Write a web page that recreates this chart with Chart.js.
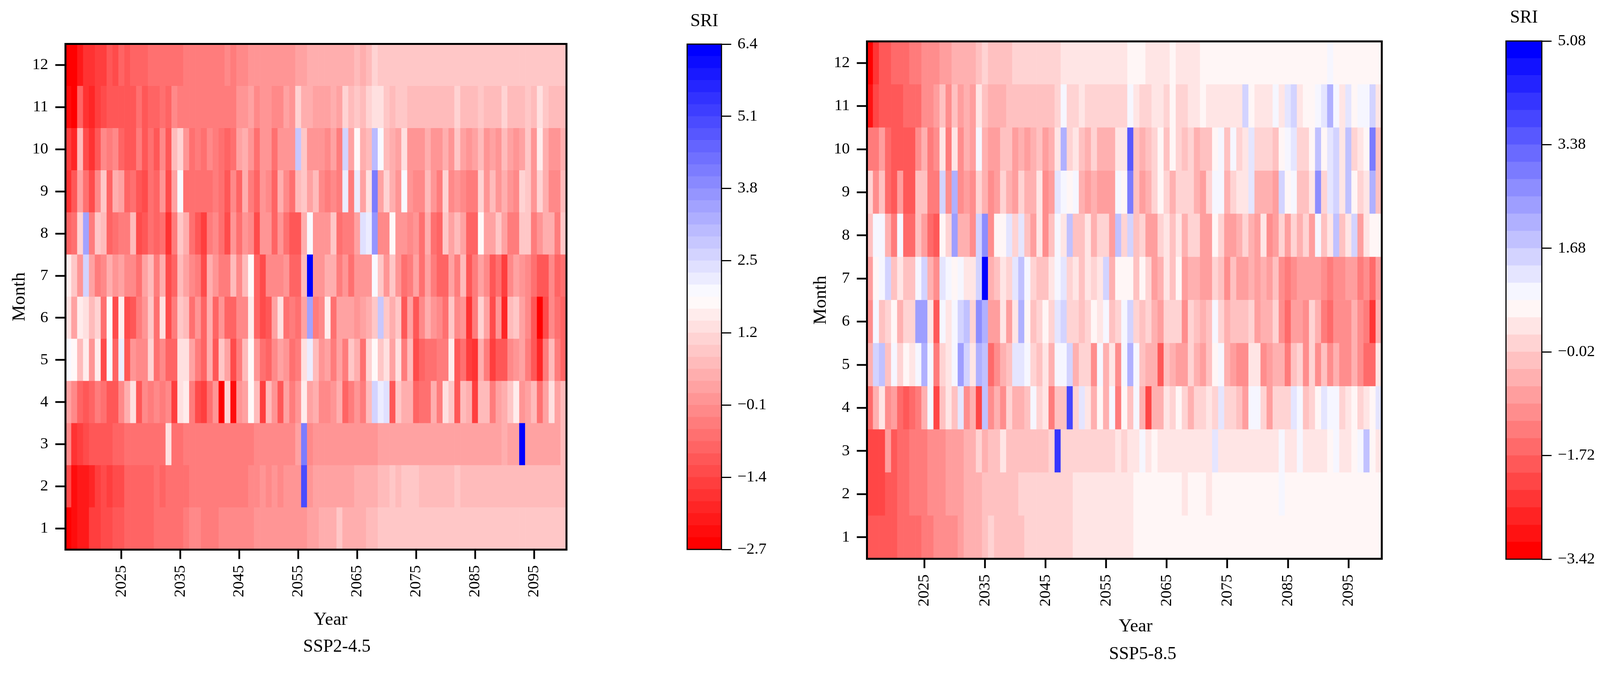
<!DOCTYPE html>
<html>
<head>
<meta charset="utf-8">
<title>SRI heatmaps</title>
<script src="https://cdn.jsdelivr.net/npm/chart.js@4"></script>
<style>
  html, body { margin: 0; padding: 0; background: #fff; overflow: hidden; }
  canvas { position: absolute; top: 0; }
</style>
</head>
<body>
<canvas id="heat245"></canvas>
<canvas id="bar245"></canvas>
<canvas id="heat585"></canvas>
<canvas id="bar585"></canvas>
<script>
// years and months
var years = [];
for (var y = 2016; y <= 2100; y++) years.push(y);
var months = [1,2,3,4,5,6,7,8,9,10,11,12];
var yearTicks = [2025,2035,2045,2055,2065,2075,2085,2095];

// colour bar ticks
var ticks245 = [-2.7,-1.4,-0.1,1.2,2.5,3.8,5.1,6.4];
var ticks585 = [-3.42,-1.72,-0.02,1.68,3.38,5.08];

// SSP2-4.5, SRI per month, one value a year
var s245m1 = [-2.6,-2.4,-2.2,-2.2,-1.5,-1.5,-1.3,-1.3,-1.1,-1.1,
  -.9,-.9,-.9,-.9,-.9,-.6,-.6,-.6,-.6,-.6,
  -.4,-.2,-.2,-.4,-.4,-.4,-.2,-.2,-.2,-.2,
  -.2,-.2,0,0,0,0,0,0,0,0,
  0,.2,.2,.5,.5,.5,.9,.5,.5,.5,
  .5,.7,.7,.9,.9,.9,.9,.9,.9,.9,
  .9,.9,.9,.9,.9,.9,.9,.9,.9,.9,
  .9,.9,.9,.9,.9,.9,.9,.9,.9,.9,
  .9,.9,.9,.9,.9];
var s245m2 = [-1.3,-2.4,-2.2,-2.2,-1.9,-1.5,-1.3,-1.5,-1.3,-1.3,
  -.9,-.9,-.9,-.9,-.9,-.6,-.9,-.6,-.6,-.6,
  -.6,-.4,-.4,-.4,-.4,-.4,-.4,-.4,-.4,-.4,
  -.4,-.2,-.2,0,-.2,0,-.2,0,0,0,
  5,0,.2,.2,.2,.2,.2,.2,.2,.5,
  .5,.5,.5,.7,.7,.9,.7,.9,.9,.9,
  .7,.7,.7,.7,.7,.7,.9,.7,.7,.7,
  .7,.7,.7,.7,.7,.7,.7,.7,.7,.7,
  .7,.7,.7,.7,.7];
var s245m3 = [-.2,-1.7,-1.5,-1.3,-1.1,-1.1,-1.1,-1.1,-.9,-.9,
  -.6,-.6,-.6,-.6,-.6,-.6,-.6,1.3,-.6,-.6,
  -.4,-.4,-.4,-.4,-.4,-.4,-.4,-.4,-.4,-.4,
  -.4,-.4,-.2,-.2,-.2,-.2,-.2,-.2,-.2,.2,
  4.2,-.2,0,0,0,0,0,0,0,0,
  0,0,0,.2,.2,.2,.2,.2,.2,.2,
  .2,.2,.2,.2,.2,.2,.2,.2,.2,.2,
  .2,.2,.2,.2,.5,.2,.2,6.3,.2,.2,
  .2,.2,.2,.2,.7];
var s245m4 = [.2,-.2,-.9,-1.1,-.9,-.4,-.6,-1.1,-1.1,-.2,
  .5,1.3,-1.1,-.2,-.4,-.2,-.4,-.2,-1.5,1.3,
  1.5,-.4,-1.3,-1.5,-.6,0,-2.6,1.1,-2.4,0,
  .2,1.8,.7,-1.5,.7,0,-1.1,.2,-.4,0,
  1.5,.2,.5,-.2,-.2,0,.5,-.9,-.4,0,
  -.4,.7,2.6,2.2,2.4,-1.1,.9,.5,.5,-.9,
  -.6,-.6,.5,-.4,1.3,.9,-1.1,.7,.5,-1.5,
  .7,.7,-.4,.2,.5,.9,1.5,0,.2,.7,
  -.6,.2,1.3,.2,.7];
var s245m5 = [2,1.8,.7,1.5,0,1.5,-1.3,2,-.9,2.2,
  -1.1,0,-.2,-.2,1.1,-.6,-.2,-.9,-.9,1.3,
  1.3,.2,-.4,-.9,.5,-1.1,.9,.2,-1.3,-.4,
  .7,1.8,0,-.6,-.9,-.2,.2,0,-.6,-.4,
  1.3,2.2,.7,0,.2,-.4,.2,-.4,.9,.5,
  -.6,1.1,1.8,.9,1.3,.2,1.3,-.4,.7,-1.3,
  -.9,-.6,-.6,-.4,-.4,1.5,-1.1,-.6,-1.5,-1.7,
  .5,-.4,-1.5,-1.1,-1.1,-.2,0,.2,-.4,-1.1,
  -1.9,-.4,.7,-.4,-.9];
var s245m6 = [1.3,.2,1.5,1.3,.7,1.1,-.6,1.8,-1.3,1.5,
  -1.3,-1.1,-.4,0,.9,-.6,1.3,-1.3,-.4,.9,
  .7,-.6,0,-.9,.5,-.9,0,-.9,-.9,-.2,
  -.2,1.5,-.9,-1.3,-1.1,.2,1.3,-.6,-.4,-.6,
  .2,3.5,-.4,-.2,1.5,-.6,.2,.2,.2,0,
  .2,.5,.9,2.8,.9,.5,.9,-1.1,.2,-1.1,
  -.2,.5,0,-.2,-.6,.9,-.2,0,-1.7,-.4,
  1.1,.2,-1.3,0,-1.9,.7,.9,.2,-.2,-1.1,
  -2.6,-1.3,-.2,-.6,-.9];
var s245m7 = [1.5,.9,0,2.6,.2,-.4,-.2,.5,0,.2,
  -.2,-.2,-.6,.2,.7,-.4,.5,-1.3,-.9,.7,
  .2,-.2,-.4,-1.3,.5,0,-.4,-.4,.7,-.2,
  .7,1.8,-.9,-1.3,-.2,-.2,-.2,0,-.9,-.9,
  .7,6.3,0,0,.5,.5,-.4,0,-.6,0,
  0,0,2,.9,0,.9,0,-.6,-.4,.2,
  -.6,.2,-.4,-.9,-.9,.2,-.4,.7,-1.1,-.4,
  .2,-.2,-1.1,-.6,-1.5,-.2,.2,0,-.2,-.6,
  -1.1,-1.1,-.2,-.9,-.6];
var s245m8 = [-.9,-.6,1.1,3.5,-.4,.9,.7,-.9,-.6,-.4,
  -.4,.7,-1.3,-1.1,-.6,-.9,-.6,-1.7,-.4,.9,
  .5,-.6,-1.1,-1.5,-.4,-.2,-.6,-1.3,0,-.6,
  0,-.2,-1.3,0,0,-.9,0,-.6,-1.1,-1.1,
  .5,2,0,0,0,.9,-.6,-.4,-.4,.2,
  2.4,2.2,3.7,-.2,-.2,1.8,0,0,-.2,0,
  -.6,.5,-.6,-.9,.9,.2,.7,.2,-.9,-.9,
  1.8,.2,.2,.9,.2,-.4,-.4,.9,.9,-.4,
  0,.5,.5,-.4,.9];
var s245m9 = [-1.7,-1.1,.2,-.6,-1.3,-.2,.9,-.9,.5,.2,
  -.9,-.6,-1.1,-1.3,-.6,-.9,0,-1.3,.2,2,
  -.6,-.6,-.6,-.6,-.6,-.4,-.6,-1.1,-.2,-.9,
  .5,-.4,-.9,0,-.2,-.9,.5,-.2,-.6,.7,
  .9,.2,.7,-.2,-.4,-.2,-.4,2.2,-.4,2.2,
  .2,1.3,4.2,.2,1.1,.5,0,2,0,-.2,
  -.2,.7,0,-.4,1.1,-.2,0,-.2,-.4,-.4,
  1.1,0,.7,0,.5,0,-.2,1.1,.9,0,
  1.1,.5,-.2,-.2,.7];
var s245m10 = [-1.5,-1.9,.7,-1.3,-1.7,-1.1,-.2,-.4,-.2,-.9,
  -1.1,-1.1,-.4,-1.1,-.6,-1.1,-.2,-1.1,.7,1.1,
  0,-.6,-.4,-.6,-.2,-.4,-.6,-.9,-.6,.2,
  .5,0,-.6,0,0,-.6,0,0,0,2.8,
  .9,0,0,0,-.2,.2,-.4,2.6,.2,1.8,
  .5,.7,3.1,2,.7,.5,.2,1.3,0,0,
  0,.5,0,0,.5,0,.9,.2,0,.2,
  .7,0,.2,0,.7,.2,0,.2,.9,0,
  1.5,.5,0,0,.5];
var s245m11 = [-2.4,-2.6,-.9,-1.7,-1.9,-1.5,-1.3,-1.1,-1.1,-1.1,
  -1.1,-1.1,-.6,-1.1,-.9,-.9,-.6,-.9,-.2,-.4,
  -.4,-.4,-.4,-.4,-.4,-.4,-.4,-.4,-.4,0,
  0,.2,-.2,0,0,-.2,-.2,.2,0,1.1,
  .5,.5,.2,.2,.2,.5,.2,1.1,.7,.9,
  .7,1.1,1.3,1.3,.9,.7,.9,.9,.7,.7,
  .7,.7,.7,.7,.7,.7,1.1,.7,.7,.7,
  .9,.7,.7,.7,1.1,.7,.7,.7,.9,.7,
  1.3,.9,.7,.7,.7];
var s245m12 = [-2.6,-2.6,-2.2,-1.7,-1.7,-1.5,-1.5,-1.1,-1.3,-.9,
  -1.1,-.9,-.9,-.9,-.6,-.6,-.6,-.6,-.6,-.6,
  -.4,-.4,-.4,-.4,-.4,-.4,-.4,-.2,-.4,-.2,
  -.2,0,0,0,0,0,0,0,0,.2,
  .2,.5,.5,.5,.5,.5,.5,.5,.5,.7,
  .5,.7,1.1,.9,.9,.9,.9,.9,.9,.9,
  .9,.9,.9,.9,.9,.9,.9,.9,.9,.9,
  .9,.9,.9,.9,.9,.9,.9,.9,.9,.9,
  .9,.9,.9,.9,.9];

// SSP5-8.5
var s585m1 = [-1.9,-1.9,-1.9,-1.9,-1.9,-1.6,-1.6,-1.6,-1.6,-1.3,
  -1.3,-1,-1,-1,-1,-.7,-.4,-.4,-.4,-.2,
  .1,-.2,-.2,-.2,-.2,-.2,.1,.1,.1,.1,
  .1,.1,.1,.1,.4,.4,.4,.4,.4,.4,
  .4,.4,.4,.4,.7,.7,.7,.7,.7,.7,
  .7,.7,.7,.7,.7,.7,.7,.7,.7,.7,
  .7,.7,.7,.7,.7,.7,.7,.7,.7,.7,
  .7,.7,.7,.7,.7,.7,.7,.7,.7,.7,
  .7,.7,.7,.7,.7];
var s585m2 = [-2.1,-2.1,-2.1,-1.9,-1.9,-1.6,-1.6,-1.3,-1.3,-1.3,
  -1,-1,-1,-.7,-.7,-.7,-.4,-.4,-.4,-.2,
  -.2,-.2,-.2,-.2,-.2,.1,.1,.1,.1,.1,
  .1,.1,.1,.1,.4,.4,.4,.4,.4,.4,
  .4,.4,.4,.4,.7,.7,.7,.7,.7,.7,
  .7,.7,.4,.7,.7,.7,.4,.7,.7,.7,
  .7,.7,.7,.7,.7,.7,.7,.7,1,.7,
  .7,.7,.7,.7,.7,.7,.7,.7,.7,.7,
  .7,.7,.7,.7,.7];
var s585m3 = [-2.1,-2.1,-2.1,-.7,-1.9,-1.6,-1.6,-1.3,-1.3,-1.3,
  -1,-1,-1,-.7,-.7,-.7,-.4,-.4,.1,-.4,
  -.2,-.2,.4,-.2,-.2,-.2,-.2,-.2,-.2,-.2,
  .1,4.1,.1,.1,.1,.1,.1,.1,.1,.1,
  .1,.4,.1,.4,.4,1,.4,.7,.4,.4,
  .4,.4,.4,.4,.4,.4,.4,1.2,.4,.4,
  .4,.4,.4,.4,.4,.4,.4,.4,1,.4,
  .4,1,.4,.4,.4,.4,.7,1,.4,.4,
  .7,1,1.8,.7,.4];
var s585m4 = [-1.6,-.4,.4,-1,-.7,-1.6,-1.9,-1.6,-1.3,-.4,
  1,-2.1,-.2,.4,-.2,1.2,-1,-.4,-2.1,1.8,
  -1,-.4,-1,.1,-.4,-.4,-.2,1,.1,.4,
  -1.3,-.2,-.2,3.8,.1,1.2,.4,-.4,.7,-.4,
  1,-1.3,.7,-.2,1,-.4,-2.1,-.4,-.4,.4,
  .1,.7,.1,-.4,.1,.1,.4,.1,1.2,.1,
  .1,-.2,-.7,1,1,.1,-.7,.1,.1,.1,
  1.2,1,-.2,.1,.7,1.2,1,1,.1,.4,
  .7,.1,.4,.7,1.2];
var s585m5 = [-.4,1.5,1.8,-.2,1,.1,.7,.4,1,2.1,
  1,-1.3,.1,.4,1,2.4,1.5,.4,2.1,1.8,
  -1.6,-1,-.4,-.2,1.2,1.2,1,.1,-.2,.4,
  -.4,1,1,1.5,-.4,.1,.1,-1,1,-.4,
  .4,-1,1,2.1,1,-.2,-.4,-.4,-1.9,-.2,
  -.4,-.7,-.7,.1,-.4,-.7,-.2,.7,1,-.4,
  -.7,-1,-1,.4,.4,-1,-.7,-.4,-.4,-1.3,
  -.2,.1,-1,.1,-1,-.2,-1,-.4,-1,-1,
  -.4,-1,-1.6,-1.6,.4];
var s585m6 = [-1,1,-.2,.1,.7,-.4,.1,.1,2.4,2.4,
  .4,-1.9,1,.4,1,1.5,1.8,.1,2.7,2.1,
  -.7,-.7,.4,-.7,.4,2.1,.7,-.2,.1,.7,
  .1,1.2,1.5,.1,.1,-.2,.1,.7,.4,1,
  -.2,.1,1,1.5,.1,-.2,.1,-.4,-.7,.1,
  .1,.1,-1,.1,-.2,-.4,-.2,1,.1,-.4,
  -.2,-.2,-.2,.1,-.7,-.4,-.4,.1,-1,-1.6,
  -.7,-.7,-1,.1,-.4,-1.3,-1.6,-1,-1,-1,
  -.4,-1,-1.3,-2.4,-.4];
var s585m7 = [-.7,.7,1,1.5,-.2,.4,-.2,-.2,1,1.5,
  -.4,-1,1.2,1,.7,1,.4,.4,1.5,4.9,
  -.4,-.2,.4,.1,1.2,1.8,1,.1,-.2,-.2,
  .4,1,1.2,.1,.4,-.2,.4,.1,.4,1.5,
  -.4,.7,.7,.7,-.2,.7,.1,-.7,-.4,.4,
  -.2,.7,-.7,-.4,-.4,-.7,-.7,.1,-.2,-1,
  -.2,-.7,-.7,-.4,-.7,-.4,-.7,-.2,-1,-1.3,
  -1,-.7,-.7,-.7,-.7,-1,-1.3,-1,-1,-.7,
  -.7,-1.3,-1,-1.6,-.7];
var s585m8 = [-.2,1,1,-.4,-1.3,1,-1.6,-1.6,-.2,-.7,
  -1.6,-1.9,.7,.1,2.4,-.4,-.4,-1,1.5,2.7,
  -1,.7,.7,1.2,.1,1.2,-.2,-.7,.4,-1,
  -.2,1,.4,1.8,-.2,-.2,.4,-.4,.1,.1,
  -.7,1.8,.1,1.5,-.2,.1,-.7,-.7,.1,.4,
  -.2,.4,-.4,.1,.1,-.7,-.7,.7,.1,-.7,
  -.7,-.4,.1,-.4,-.7,.4,-1,-.7,.1,-.7,
  .1,-.4,.1,-.7,1,-.2,.4,1.8,-.2,.4,
  1.5,-.7,.4,.7,.7];
var s585m9 = [.1,-1,-.2,-1.6,-1.9,-.7,-1.9,-1.9,-.2,-.2,
  -1.3,-1.3,1.5,-1,2.1,-1,-.7,-1,.1,-.4,
  -1,-.7,.1,-.4,-.7,.1,-.4,-.4,.4,-1,
  -.7,1.2,1,.7,1,-.4,-.7,-.4,-.7,-.7,
  -.7,1,.7,2.9,-.2,-.7,-.4,.1,.7,.1,
  -.4,.1,.1,.1,-.4,-.7,.1,1,1,-.4,
  .1,.4,.4,1.2,-.4,-.4,-.4,-.7,1.5,.7,
  1,-.2,-.2,.4,2.7,.1,1.2,1.5,.4,1.8,
  .7,.1,.4,2.1,-.2];
var s585m10 = [-1.3,-1.3,-.7,-1.6,-1.9,-1.9,-1.9,-1.9,-1,-.4,
  -1.3,-1,.4,-1.3,.4,-1,-.4,-.7,1,-.4,
  -.7,-.7,-.2,-.2,-.7,-.4,-.7,-.4,-.2,-.7,
  -.4,.4,2.1,.1,.4,-.2,-.4,.1,-.4,-.4,
  -.4,.4,.4,3.5,-.2,-.4,-.2,.1,.7,-.2,
  .7,.1,-.2,.1,-.4,-.2,-.2,.7,1,-.2,
  1,.1,.4,1.2,.1,.1,.1,-.2,.7,1,
  1.2,.1,.1,.7,1.8,.7,1.2,1.5,.4,1.8,
  .1,.4,.7,2.9,-.2];
var s585m11 = [-3,-2.1,-1.9,-1.9,-1.9,-1.9,-1.6,-1.6,-1.6,-1,
  -1,-.7,-.2,-1,-.2,-.7,-.4,-.7,.4,-.2,
  -.4,-.4,-.4,-.2,-.2,-.2,-.2,-.2,-.2,-.2,
  -.2,.1,1,.1,.1,.4,.1,.1,.1,.1,
  .1,.1,.1,1,.4,.1,.1,.4,.4,.1,
  .7,.1,.1,.4,.4,.7,.4,.4,.4,.4,
  .4,.4,1.5,.7,.4,.4,.4,1,.4,1.2,
  1.5,.4,.7,.7,1,1.2,2.1,1,.4,1.2,
  .7,1,1,1.5,.4];
var s585m12 = [-3.3,-2.4,-1.9,-1.9,-1.6,-1.6,-1.6,-1.3,-1.3,-1,
  -1,-1,-.7,-.7,-.4,-.4,-.4,-.4,-.2,.1,
  -.2,-.2,-.2,-.2,.1,.1,.1,.1,.1,.1,
  .1,.1,.4,.4,.4,.4,.4,.4,.4,.4,
  .4,.4,.4,.7,.7,.7,.4,.4,.4,.4,
  .7,.4,.4,.4,.4,.7,.7,.7,.7,.7,
  .7,.7,.7,.7,.7,.7,.7,.7,.7,.7,
  .7,.7,.7,.7,.7,.7,1,.7,.7,.7,
  .7,.7,.7,.7,.7];

var rows245 = [s245m1,s245m2,s245m3,s245m4,s245m5,s245m6,s245m7,s245m8,s245m9,s245m10,s245m11,s245m12];
var rows585 = [s585m1,s585m2,s585m3,s585m4,s585m5,s585m6,s585m7,s585m8,s585m9,s585m10,s585m11,s585m12];

var SERIF = '"Liberation Serif", "Times New Roman", serif';
var PAGE_H = 1726;

// the browser window can come out narrower than the 4289 wide original,
// so all x positions below are given in original pixels and squeezed to fit
var sx = Math.min(1, window.innerWidth / 4289);
function X(v) { return v * sx; }

// put a canvas at x..x+w (original pixels), returns its rounded left and width
function place(id, x, w) {
  var el = document.getElementById(id);
  var left = Math.round(X(x)), width = Math.round(X(w));
  el.style.left = left + 'px';
  el.width = width;
  el.height = PAGE_H;
  return { el: el, left: left, width: width };
}

// red-white-blue in n flat steps, like a reversed bwr
function bandColor(k, n) {
  var t = k / (n - 1);
  var g = Math.round((t < 0.5 ? 2 * t : 2 * (1 - t)) * 255);
  return t < 0.5 ? 'rgb(255,' + g + ',' + g + ')' : 'rgb(' + g + ',' + g + ',255)';
}
function valueColor(v, lo, hi, n) {
  var k = Math.floor((v - lo) / (hi - lo) * n);
  k = Math.max(0, Math.min(n - 1, k));
  return bandColor(k, n);
}

// frame round the plot and free-placed captions
var framePlugin = {
  id: 'frame',
  afterDraw: function (chart, args, opts) {
    var a = chart.chartArea, c = chart.ctx;
    c.save();
    c.strokeStyle = '#000';
    c.lineWidth = opts.width;
    c.strokeRect(a.left, a.top, a.right - a.left, a.bottom - a.top);
    c.fillStyle = '#000';
    c.textAlign = 'center';
    c.textBaseline = 'middle';
    (opts.captions || []).forEach(function (t) {
      c.font = t.size + 'px ' + SERIF;
      c.fillText(t.text, X(t.x) - opts.offset, t.y);
    });
    c.restore();
  }
};

function heatmap(id, rows, lo, hi, n, o) {
  var box = place(id, o.x, o.w);
  var datasets = months.map(function (m, i) {
    return {
      label: 'Month ' + m,
      data: rows[i].map(function () { return [m - 0.5, m + 0.5]; }),
      backgroundColor: rows[i].map(function (v) { return valueColor(v, lo, hi, n); }),
      borderWidth: 0,
      barPercentage: 1,
      categoryPercentage: 1,
      grouped: false
    };
  });
  new Chart(box.el, {
    type: 'bar',
    data: { labels: years, datasets: datasets },
    plugins: [framePlugin],
    options: {
      responsive: false,
      animation: false,
      devicePixelRatio: 1,
      layout: { padding: { top: o.top, left: 0, right: box.width - (X(o.plotRight) - box.left), bottom: 0 } },
      plugins: {
        legend: { display: false },
        tooltip: { enabled: false },
        frame: { width: 5, captions: o.captions, offset: box.left }
      },
      scales: {
        x: {
          type: 'category',
          offset: true,
          afterBuildTicks: function (s) {
            s.ticks = s.ticks.filter(function (t) { return yearTicks.indexOf(years[t.value]) >= 0; });
          },
          afterFit: function (s) { s.height = PAGE_H - o.bottom; },
          border: { display: false },
          grid: { offset: false, drawOnChartArea: false, tickLength: 24, tickWidth: 4.5, tickColor: '#000' },
          ticks: {
            autoSkip: false, minRotation: 90, maxRotation: 90, padding: 16, color: '#000',
            font: { family: SERIF, size: 41 }
          }
        },
        y: {
          min: 0.5,
          max: 12.5,
          afterBuildTicks: function (s) {
            s.ticks = months.map(function (m) { return { value: m }; });
          },
          afterFit: function (s) { s.width = X(o.plotLeft) - box.left; },
          border: { display: false },
          grid: { drawOnChartArea: false, tickLength: 26, tickWidth: 4.5, tickColor: '#000' },
          ticks: {
            padding: 18, color: '#000', font: { family: SERIF, size: 41 },
            callback: function (v) { return String(v); }
          },
          title: {
            display: true, text: 'Month', color: '#000',
            font: { family: SERIF, size: 47 }, padding: { top: 22, bottom: 0 }
          }
        }
      }
    }
  });
}

function colorbar(id, ticks, decimals, n, o) {
  var box = place(id, o.x, o.w);
  var lo = ticks[0], hi = ticks[ticks.length - 1], sets = [];
  for (var k = 0; k < n; k++) {
    sets.push({
      data: [[lo + (hi - lo) * k / n, lo + (hi - lo) * (k + 1) / n]],
      backgroundColor: bandColor(k, n),
      borderWidth: 0,
      barPercentage: 1,
      categoryPercentage: 1,
      grouped: false
    });
  }
  new Chart(box.el, {
    type: 'bar',
    data: { labels: ['SRI'], datasets: sets },
    plugins: [framePlugin],
    options: {
      responsive: false,
      animation: false,
      devicePixelRatio: 1,
      layout: { padding: { top: o.top, left: X(o.barLeft) - box.left, right: 0, bottom: PAGE_H - o.bottom } },
      plugins: {
        legend: { display: false },
        tooltip: { enabled: false },
        frame: { width: 3, captions: o.captions, offset: box.left }
      },
      scales: {
        x: { display: false },
        y: {
          position: 'right',
          min: lo,
          max: hi,
          afterBuildTicks: function (s) {
            s.ticks = ticks.map(function (v) { return { value: v }; });
          },
          afterFit: function (s) { s.width = box.width - (X(o.barRight) - box.left); },
          border: { display: false },
          grid: { drawOnChartArea: false, tickLength: 25, tickWidth: 3, tickColor: '#000' },
          ticks: {
            padding: 16, color: '#000', font: { family: SERIF, size: 41 },
            callback: function (v) { return v.toFixed(decimals).replace('-', '\u2212'); }
          }
        }
      }
    }
  });
}

heatmap('heat245', rows245, -2.7, 6.4, 42, {
  x: 0, w: 1700, plotLeft: 175.5, plotRight: 1518.5, top: 112.5, bottom: 1407.5,
  captions: [{ text: 'Year', x: 886, y: 1588, size: 47 }, { text: 'SSP2-4.5', x: 903, y: 1657, size: 46 }]
});
colorbar('bar245', ticks245, 1, 42, {
  x: 1780, w: 300, barLeft: 1842, barRight: 1934, top: 113, bottom: 1407,
  captions: [{ text: 'SRI', x: 1888, y: 55, size: 46 }]
});
heatmap('heat585', rows585, -3.42, 5.08, 30, {
  x: 2148, w: 1700, plotLeft: 2324, plotRight: 3704, top: 106, bottom: 1431,
  captions: [{ text: 'Year', x: 3044, y: 1605, size: 47 }, { text: 'SSP5-8.5', x: 3063, y: 1676, size: 46 }]
});
colorbar('bar585', ticks585, 2, 30, {
  x: 3950, w: 339, barLeft: 4037, barRight: 4133, top: 105, bottom: 1432,
  captions: [{ text: 'SRI', x: 4085, y: 46, size: 46 }]
});
</script>
</body>
</html>
